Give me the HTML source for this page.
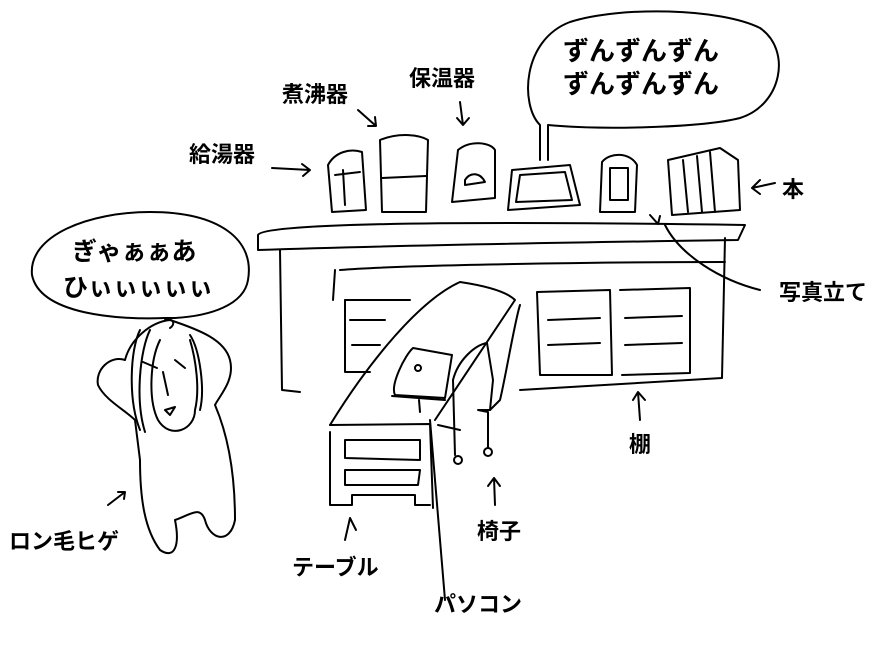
<!DOCTYPE html>
<html><head><meta charset="utf-8"><style>
html,body{margin:0;padding:0;background:#fff;}
svg{display:block;}
text{font-family:"Liberation Sans","Noto Sans CJK JP",sans-serif;font-weight:bold;fill:#000;}
</style></head><body>
<svg width="890" height="670" viewBox="0 0 890 670" xmlns="http://www.w3.org/2000/svg">
<g fill="none" stroke="#000" stroke-width="2" stroke-linecap="round" stroke-linejoin="round">
<path d="M540,160 L540,125 C520,105 522,40 570,22 C620,6 720,8 760,28 C792,50 782,105 740,118 C700,128 600,130 548,125 L548,160"/>
<path d="M165,318 C120,320 40,315 32,275 C28,235 90,212 150,212 C220,212 255,240 248,280 C244,305 210,316 175,318 Z"/>
<path d="M258,235 C262,225 400,220 745,225 L738,240 C600,242 400,245 258,250 Z"/>
<path d="M280,250 L282,390 L300,392"/>
<path d="M725,238 L722,378 L520,390"/>
<path d="M340,270 C400,265 600,262 725,262"/>
<path d="M335,270 L333,300"/>
<path d="M345,300 L345,372 L370,372"/><path d="M345,300 L410,300"/>
<path d="M350,320 L385,320 M352,345 L380,345"/>
<path d="M537,292 L610,290 L612,375 L540,375 Z"/>
<path d="M548,320 L600,318 M548,345 L600,343"/>
<path d="M620,290 L690,288 L690,373 L622,375"/>
<path d="M625,318 L682,316 M625,345 L682,343"/>
<path d="M330,425 C370,360 420,300 460,282 C480,285 505,290 515,300 L435,420"/>
<path d="M330,425 L430,424 L433,508"/>
<path d="M330,432 L330,505 L352,505 L352,495 L415,495 L415,505 L430,505"/>
<path d="M345,440 L420,440 L420,460 L345,458 Z"/>
<path d="M345,470 L420,470 L418,485 L345,485 Z"/>
<path d="M430,420 L445,600"/>
<path d="M413,348 L452,355 L445,398 L395,395 C390,385 405,355 413,348 Z"/>
<path d="M392,396 L445,400"/>
<circle cx="418" cy="368" r="3"/>
<path d="M419,400 L420,412"/>
<path d="M453,380 C458,360 475,345 487,343 L493,380 L490,410 L478,410 L488,412 L488,448"/>
<path d="M453,380 L455,455 M438,425 L460,430"/>
<circle cx="458" cy="460" r="4"/><circle cx="488" cy="452" r="4"/>
<path d="M490,410 L500,400 C505,380 515,320 520,305"/>
<path d="M170,320 C150,322 130,340 125,360 C110,355 95,370 98,385 C105,400 125,410 135,420 L140,460 C140,500 145,530 160,550 C175,560 180,545 175,520 C190,515 200,505 205,520 C210,540 230,545 235,520 C235,480 230,440 215,405 C220,395 235,380 230,360 C225,340 200,330 170,320 Z"/>
<path d="M160,340 C150,360 148,400 158,420 C170,440 195,430 195,410 C200,390 196,360 190,340"/>
<path d="M140,330 C130,350 128,400 140,430 M190,335 C200,350 205,390 200,410 M150,330 C140,350 135,400 145,432"/>
<path d="M163,372 L168,395 M165,410 L175,407 L170,415 Z"/>
<path d="M143,362 L157,368 M175,360 L185,368"/>
<path d="M165,320 C175,318 175,325 170,328"/>
<path d="M328,165 C335,152 350,148 362,152 L366,210 L332,212 Z"/><path d="M335,175 L360,172 M343,170 L345,205"/>
<path d="M380,140 C400,132 420,135 428,140 L426,212 L382,212 Z"/><path d="M382,178 L426,176"/>
<path d="M458,150 C470,140 490,142 495,150 L495,198 L452,202 Z"/><path d="M465,180 C470,172 480,172 485,182 L465,185 Z"/>
<path d="M512,170 L570,165 L580,205 L508,210 Z"/><path d="M520,175 L565,172 L572,200 L516,202 Z"/>
<path d="M602,162 C610,152 630,152 637,165 L635,212 L600,212 Z"/><path d="M610,168 L628,168 L628,200 L610,200 Z"/>
<path d="M668,160 L720,148 L738,160 L740,210 L672,215 Z"/><path d="M683,160 L688,212 M697,156 L702,212 M710,152 L715,212"/>
<path d="M272,168 L310,170 L302,164 M310,170 L303,176"/>
<path d="M358,110 L376,126 L368,126 M376,126 L375,117"/>
<path d="M460,102 L463,125 L457,118 M463,125 L469,118"/>
<path d="M775,183 L752,188 L760,180 M752,188 L760,194"/>
<path d="M760,290 C720,280 680,255 665,225 M650,215 L658,224 L660,216"/>
<path d="M640,420 L638,392 L633,400 M638,392 L645,400"/>
<path d="M495,505 L494,478 L488,486 M494,478 L500,486"/>
<path d="M345,540 L350,518 L356,530"/>
<path d="M108,505 L125,492 L118,492 M125,492 L124,499"/>
</g>
<g font-size="22">
<text x="563" y="60" font-size="26">ずんずんずん</text>
<text x="563" y="93" font-size="26">ずんずんずん</text>
<text x="409" y="86">保温器</text>
<text x="282" y="102">煮沸器</text>
<text x="189" y="162">給湯器</text>
<text x="782" y="197">本</text>
<text x="779" y="300">写真立て</text>
<text x="72" y="260" font-size="25">ぎゃぁぁあ</text>
<text x="63" y="296" font-size="25">ひぃぃぃぃぃ</text>
<text x="629" y="452">棚</text>
<text x="477" y="539">椅子</text>
<text x="9" y="549">ロン毛ヒゲ</text>
<text x="292" y="575">テーブル</text>
<text x="434" y="612">パソコン</text>
</g>
</svg>
</body></html>
